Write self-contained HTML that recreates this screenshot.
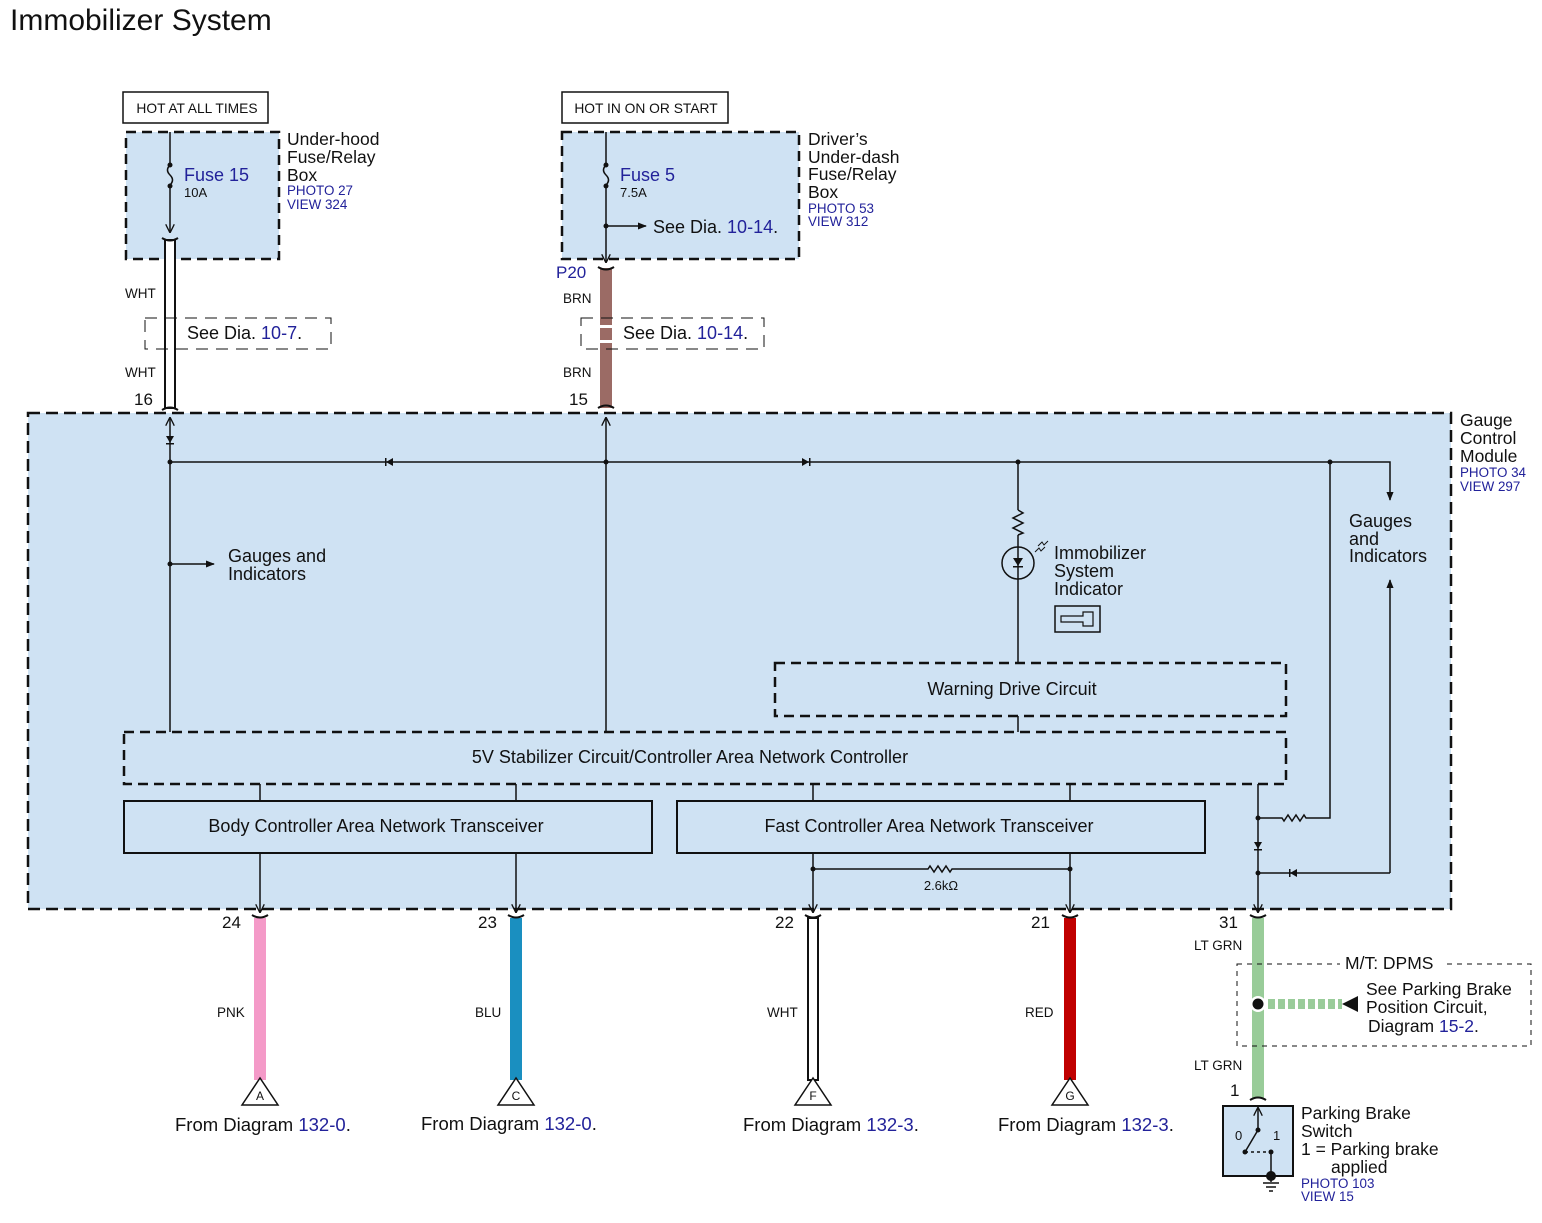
<!DOCTYPE html>
<html><head><meta charset="utf-8"><style>
html,body{margin:0;padding:0;background:#fff}
svg{display:block}
text{font-family:"Liberation Sans",sans-serif;fill:#111}
.b{fill:#22229a}
</style></head><body>
<svg width="1542" height="1223" viewBox="0 0 1542 1223" xmlns="http://www.w3.org/2000/svg">
<defs>
<marker id="ar" viewBox="0 0 10 10" refX="9" refY="5" markerWidth="9" markerHeight="9" orient="auto-start-reverse" markerUnits="userSpaceOnUse"><path d="M0,0 L10,5 L0,10" fill="none" stroke="#111" stroke-width="1.5"/></marker>
<marker id="at" viewBox="0 0 10 10" refX="9" refY="5" markerWidth="9" markerHeight="9" orient="auto" markerUnits="userSpaceOnUse"><path d="M0,1 L10,5 L0,9z" fill="#111"/></marker>
</defs>
<text x="10" y="30" font-size="30">Immobilizer System</text>

<!-- top left -->
<rect x="123" y="92" width="145" height="31" fill="#fff" stroke="#111" stroke-width="1.5"/>
<text x="197" y="113" font-size="13.8" text-anchor="middle">HOT AT ALL TIMES</text>
<rect x="126" y="132" width="153" height="127" fill="#cfe2f3" stroke="#111" stroke-width="2.5" stroke-dasharray="10,6"/>
<line x1="170" y1="132" x2="170" y2="165" stroke="#111" stroke-width="1.5"/>
<path d="M170,165 q-5,5 0,10 q5,5 0,10" fill="none" stroke="#111" stroke-width="1.5"/>
<circle cx="170" cy="165" r="2.5" fill="#111"/><circle cx="170" cy="186" r="2.5" fill="#111"/>
<line x1="170" y1="186" x2="170" y2="232" stroke="#111" stroke-width="1.5" marker-end="url(#ar)"/>
<text x="184" y="181" font-size="18" class="b">Fuse 15</text>
<text x="184" y="197" font-size="13">10A</text>
<text x="287" y="145" font-size="17.5">Under-hood</text>
<text x="287" y="163" font-size="17.5">Fuse/Relay</text>
<text x="287" y="181" font-size="17.5">Box</text>
<text x="287" y="195" font-size="13.4" class="b">PHOTO 27</text>
<text x="287" y="209" font-size="13.4" class="b">VIEW 324</text>
<rect x="165" y="240" width="10" height="168" fill="#fff" stroke="#111" stroke-width="2"/>
<path d="M162,238 q8,5 16,0 M162,410 q8,-5 16,0" fill="none" stroke="#111" stroke-width="2"/>
<text x="125" y="298" font-size="13.5">WHT</text>
<text x="125" y="377" font-size="13.5">WHT</text>
<text x="134" y="405" font-size="17">16</text>
<rect x="145" y="318" width="186" height="31" fill="none" stroke="#111" stroke-width="1" stroke-dasharray="12,8"/>
<rect x="163" y="327" width="14" height="10" fill="#fff"/>
<line x1="165" y1="327" x2="165" y2="337" stroke="#111" stroke-width="2"/><line x1="175" y1="327" x2="175" y2="337" stroke="#111" stroke-width="2"/>
<text x="187" y="339" font-size="18">See Dia. <tspan class="b">10-7</tspan>.</text>

<!-- top middle -->
<rect x="562" y="92" width="166" height="31" fill="#fff" stroke="#111" stroke-width="1.5"/>
<text x="646" y="113" font-size="13.8" text-anchor="middle">HOT IN ON OR START</text>
<rect x="562" y="132" width="237" height="127" fill="#cfe2f3" stroke="#111" stroke-width="2.5" stroke-dasharray="10,6"/>
<line x1="606" y1="132" x2="606" y2="165" stroke="#111" stroke-width="1.5"/>
<path d="M606,165 q-5,5 0,10 q5,5 0,10" fill="none" stroke="#111" stroke-width="1.5"/>
<circle cx="606" cy="165" r="2.5" fill="#111"/><circle cx="606" cy="186" r="2.5" fill="#111"/>
<line x1="606" y1="186" x2="606" y2="262" stroke="#111" stroke-width="1.5" marker-end="url(#ar)"/>
<circle cx="606" cy="226" r="2.5" fill="#111"/>
<line x1="606" y1="226" x2="646" y2="226" stroke="#111" stroke-width="1.5" marker-end="url(#at)"/>
<text x="620" y="181" font-size="18" class="b">Fuse 5</text>
<text x="620" y="197" font-size="13">7.5A</text>
<text x="653" y="233" font-size="18">See Dia. <tspan class="b">10-14</tspan>.</text>
<text x="808" y="145" font-size="17.5">Driver’s</text>
<text x="808" y="163" font-size="17.5">Under-dash</text>
<text x="808" y="180" font-size="17.5">Fuse/Relay</text>
<text x="808" y="198" font-size="17.5">Box</text>
<text x="808" y="213" font-size="13.4" class="b">PHOTO 53</text>
<text x="808" y="226" font-size="13.4" class="b">VIEW 312</text>
<rect x="600" y="268" width="12" height="140" fill="#9b6b65"/>
<path d="M598,267 q8,5 16,0 M598,408 q8,-5 16,0" fill="none" stroke="#111" stroke-width="2"/>
<text x="556" y="278" font-size="17" class="b">P20</text>
<text x="563" y="303" font-size="13.5">BRN</text>
<text x="563" y="377" font-size="13.5">BRN</text>
<text x="569" y="405" font-size="17">15</text>
<rect x="581" y="318" width="183" height="31" fill="none" stroke="#111" stroke-width="1" stroke-dasharray="12,8"/>
<rect x="598" y="325" width="16" height="3" fill="#fff"/><rect x="598" y="340" width="16" height="3" fill="#fff"/>
<text x="623" y="339" font-size="18">See Dia. <tspan class="b">10-14</tspan>.</text>

<!-- gauge module -->
<rect x="28" y="413" width="1423" height="496" fill="#cfe2f3" stroke="#111" stroke-width="2.5" stroke-dasharray="12,6"/>
<text x="1460" y="426" font-size="17.5">Gauge</text>
<text x="1460" y="444" font-size="17.5">Control</text>
<text x="1460" y="462" font-size="17.5">Module</text>
<text x="1460" y="477" font-size="13.4" class="b">PHOTO 34</text>
<text x="1460" y="491" font-size="13.4" class="b">VIEW 297</text>

<g stroke="#111" stroke-width="1.5" fill="none">
<line x1="170" y1="418" x2="170" y2="732" marker-start="url(#ar)"/>
<line x1="606" y1="418" x2="606" y2="732" marker-start="url(#ar)"/>
<polyline points="170,462 1390,462 1390,500" marker-end="url(#at)"/>
<line x1="170" y1="564" x2="214" y2="564" marker-end="url(#at)"/>
<line x1="1018" y1="462" x2="1018" y2="510"/>
<path d="M1018,510 l5,3 -10,5 10,5 -10,5 10,5 -5,2"/>
<line x1="1018" y1="535" x2="1018" y2="663"/>
<circle cx="1018" cy="563" r="16"/>
<line x1="1018" y1="716" x2="1018" y2="732"/>
<line x1="260" y1="784" x2="260" y2="801"/><line x1="516" y1="784" x2="516" y2="801"/>
<line x1="813" y1="784" x2="813" y2="801"/><line x1="1070" y1="784" x2="1070" y2="801"/>
<line x1="260" y1="853" x2="260" y2="912" marker-end="url(#ar)"/>
<line x1="516" y1="853" x2="516" y2="912" marker-end="url(#ar)"/>
<line x1="813" y1="853" x2="813" y2="912" marker-end="url(#ar)"/>
<line x1="1070" y1="853" x2="1070" y2="912" marker-end="url(#ar)"/>
<polyline points="813,869 928,869 930,866 934,872 938,866 942,872 946,866 950,872 952,869 1070,869"/>
<line x1="1258" y1="784" x2="1258" y2="912" marker-end="url(#ar)"/>
<polyline points="1330,462 1330,818 1306,818 1304,815 1300,821 1296,815 1292,821 1288,815 1284,821 1282,818 1258,818"/>
<polyline points="1390,873 1258,873"/>
<line x1="1390" y1="873" x2="1390" y2="580" marker-end="url(#at)"/>
</g>
<g fill="#111">
<circle cx="170" cy="462" r="2.5"/><circle cx="606" cy="462" r="2.5"/><circle cx="1018" cy="462" r="2.5"/><circle cx="1330" cy="462" r="2.5"/>
<circle cx="170" cy="564" r="2.5"/><circle cx="813" cy="869" r="2.5"/><circle cx="1070" cy="869" r="2.5"/>
<circle cx="1258" cy="818" r="2.5"/><circle cx="1258" cy="873" r="2.5"/>
<path d="M166,436 h8 l-4,7z"/><rect x="166" y="443" width="8" height="1.5"/>
<path d="M393,458 v8 l-7,-4z"/><rect x="385" y="458" width="1.5" height="8"/>
<path d="M802,458 v8 l7,-4z"/><rect x="809" y="458" width="1.5" height="8"/>
<path d="M1254,842 h8 l-4,7z"/><rect x="1254" y="849" width="8" height="1.5"/>
<path d="M1297,869 v8 l-7,-4z"/><rect x="1289" y="869" width="1.5" height="8"/>
<path d="M1013,558 h10 l-5,8z"/><rect x="1013" y="566" width="10" height="1.5"/>
</g>
<path d="M1035,552 l4,-4 2,3 4,-4 M1038,546 l4,-4 2,3 4,-4" fill="none" stroke="#111" stroke-width="1"/>
<text x="228" y="562" font-size="18">Gauges and</text>
<text x="228" y="580" font-size="18">Indicators</text>
<text x="1349" y="527" font-size="18">Gauges</text>
<text x="1349" y="545" font-size="18">and</text>
<text x="1349" y="562" font-size="18">Indicators</text>
<text x="1054" y="559" font-size="18">Immobilizer</text>
<text x="1054" y="577" font-size="18">System</text>
<text x="1054" y="595" font-size="18">Indicator</text>
<rect x="1055" y="606" width="45" height="26" fill="none" stroke="#111" stroke-width="1.5"/>
<path d="M1061,616 h22 v-4 h10 v14 h-10 v-4 h-22z" fill="none" stroke="#111" stroke-width="1.2"/>
<text x="941" y="890" font-size="13" text-anchor="middle">2.6kΩ</text>

<rect x="775" y="663" width="511" height="53" fill="none" stroke="#111" stroke-width="2.5" stroke-dasharray="10,6"/>
<text x="1012" y="695" font-size="18" text-anchor="middle">Warning Drive Circuit</text>
<rect x="124" y="732" width="1162" height="52" fill="none" stroke="#111" stroke-width="2.5" stroke-dasharray="10,6"/>
<text x="690" y="763" font-size="18" text-anchor="middle">5V Stabilizer Circuit/Controller Area Network Controller</text>
<rect x="124" y="801" width="528" height="52" fill="none" stroke="#111" stroke-width="2"/>
<text x="376" y="832" font-size="18" text-anchor="middle">Body Controller Area Network Transceiver</text>
<rect x="677" y="801" width="528" height="52" fill="none" stroke="#111" stroke-width="2"/>
<text x="929" y="832" font-size="18" text-anchor="middle">Fast Controller Area Network Transceiver</text>

<!-- bottom wires -->
<rect x="254" y="918" width="12" height="162" fill="#f49ac8"/>
<rect x="510" y="918" width="12" height="162" fill="#1a8fc0"/>
<rect x="808" y="918" width="10" height="162" fill="#fff" stroke="#111" stroke-width="2"/>
<rect x="1064" y="918" width="12" height="162" fill="#c00000"/>
<rect x="1252" y="918" width="12" height="180" fill="#99cc99"/>
<g fill="none" stroke="#111" stroke-width="2">
<path d="M252,915 q8,5 16,0 M508,915 q8,5 16,0 M805,915 q8,5 16,0 M1062,915 q8,5 16,0 M1250,915 q8,5 16,0 M1250,1100 q8,-5 16,0"/>
</g>
<g fill="#fff" stroke="#111" stroke-width="1.5">
<path d="M260,1078 l-18,27 h36z"/><path d="M516,1078 l-18,27 h36z"/><path d="M813,1078 l-18,27 h36z"/><path d="M1070,1078 l-18,27 h36z"/>
</g>
<g font-size="12" text-anchor="middle">
<text x="260" y="1100">A</text><text x="516" y="1100">C</text><text x="813" y="1100">F</text><text x="1070" y="1100">G</text>
</g>
<g font-size="17">
<text x="222" y="928">24</text><text x="478" y="928">23</text><text x="775" y="928">22</text><text x="1031" y="928">21</text><text x="1219" y="928">31</text>
<text x="1230" y="1096">1</text>
</g>
<g font-size="13.5">
<text x="217" y="1017">PNK</text><text x="475" y="1017">BLU</text><text x="767" y="1017">WHT</text><text x="1025" y="1017">RED</text>
<text x="1194" y="950">LT GRN</text><text x="1194" y="1070">LT GRN</text>
</g>
<g font-size="18.5">
<text x="175" y="1131">From Diagram <tspan class="b">132-0</tspan>.</text>
<text x="421" y="1130">From Diagram <tspan class="b">132-0</tspan>.</text>
<text x="743" y="1131">From Diagram <tspan class="b">132-3</tspan>.</text>
<text x="998" y="1131">From Diagram <tspan class="b">132-3</tspan>.</text>
</g>

<!-- DPMS -->
<rect x="1237" y="964" width="294" height="82" fill="none" stroke="#111" stroke-width="1" stroke-dasharray="5,5"/>
<rect x="1340" y="955" width="105" height="16" fill="#fff"/>
<text x="1345" y="969" font-size="17.5">M/T: DPMS</text>
<line x1="1268" y1="1004" x2="1342" y2="1004" stroke="#99cc99" stroke-width="10" stroke-dasharray="7,3"/>
<circle cx="1258" cy="1004" r="8" fill="#fff"/><circle cx="1258" cy="1004" r="5.5" fill="#111"/>
<path d="M1358,996 v16 l-16,-8z" fill="#111"/>
<text x="1366" y="995" font-size="17.5">See Parking Brake</text>
<text x="1366" y="1013" font-size="17.5">Position Circuit,</text>
<text x="1368" y="1032" font-size="17.5">Diagram <tspan class="b">15-2</tspan>.</text>

<!-- switch -->
<rect x="1223" y="1106" width="70" height="70" fill="#cfe2f3" stroke="#111" stroke-width="2"/>
<g stroke="#111" stroke-width="1.5" fill="none">
<line x1="1258" y1="1130" x2="1258" y2="1108" marker-end="url(#ar)"/>
<line x1="1258" y1="1130" x2="1245" y2="1152"/>
<path d="M1245,1152 h25" stroke-dasharray="3,3"/>
<line x1="1271" y1="1152" x2="1271" y2="1182"/>
<line x1="1263" y1="1183" x2="1279" y2="1183"/><line x1="1266" y1="1187" x2="1276" y2="1187"/><line x1="1269" y1="1191" x2="1273" y2="1191"/>
</g>
<circle cx="1258" cy="1130" r="2.5" fill="#111"/><circle cx="1245" cy="1152" r="2.5" fill="#111"/><circle cx="1271" cy="1152" r="2.5" fill="#111"/><circle cx="1271" cy="1176" r="5" fill="#111"/>
<text x="1235" y="1140" font-size="13">0</text><text x="1273" y="1140" font-size="13">1</text>
<text x="1301" y="1119" font-size="17.5">Parking Brake</text>
<text x="1301" y="1137" font-size="17.5">Switch</text>
<text x="1301" y="1155" font-size="17.5">1 = Parking brake</text>
<text x="1331" y="1173" font-size="17.5">applied</text>
<text x="1301" y="1188" font-size="13.4" class="b">PHOTO 103</text>
<text x="1301" y="1201" font-size="13.4" class="b">VIEW 15</text>
</svg>
</body></html>
